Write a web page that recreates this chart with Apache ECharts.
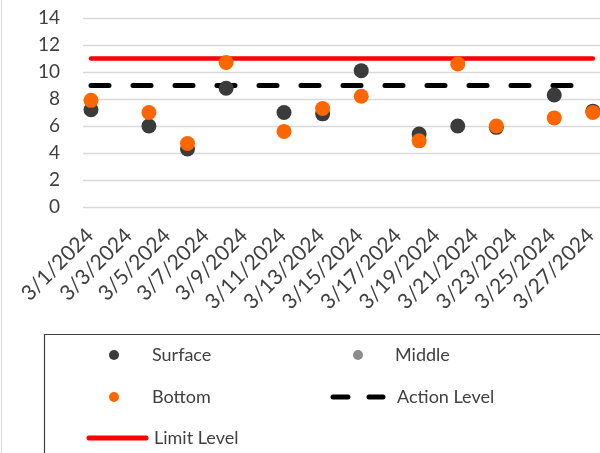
<!DOCTYPE html>
<html>
<head>
<meta charset="utf-8">
<script src="https://cdn.jsdelivr.net/npm/echarts@6/dist/echarts.min.js"></script>
<style>
  html, body { margin: 0; padding: 0; background: #fff; }
  #chart { width: 600px; height: 453px; }
</style>
</head>
<body>
<div id="chart"></div>
<script>
// sample dates and readings
const sampleDates = ["3/1/2024", "3/4/2024", "3/6/2024", "3/8/2024", "3/11/2024", "3/13/2024",
  "3/15/2024", "3/18/2024", "3/20/2024", "3/22/2024", "3/25/2024", "3/27/2024"];
const surface = [7.2, 6.0, 4.3, 8.8, 7.0, 6.9, 10.1, 5.4, 6.0, 5.9, 8.3, 7.1];
const middle = [];
const bottom = [7.9, 7.0, 4.7, 10.7, 5.6, 7.3, 8.2, 4.9, 10.6, 6.0, 6.6, 7.0];
const actionLevel = 9;
const limitLevel = 11;

// axis labels
const tickLabels = ["3/1/2024", "3/3/2024", "3/5/2024", "3/7/2024", "3/9/2024", "3/11/2024", "3/13/2024",
  "3/15/2024", "3/17/2024", "3/19/2024", "3/21/2024", "3/23/2024", "3/25/2024", "3/27/2024"];
const yMin = 0, yMax = 14, yStep = 2;

const FONT = "Lato";
const TEXT = "#404040";

function day(s) {
  return +s.split("/")[1];
}
function pairs(vals) {
  return vals.map((v, i) => [day(sampleDates[i]), v]);
}
function level(v) {
  return [[day(sampleDates[0]), v], [day(sampleDates[sampleDates.length - 1]), v]];
}

const myChart = echarts.init(document.getElementById("chart"));

function legendItem(name, left, top, itemWidth, textPad, extra) {
  return Object.assign({
    data: [name],
    left: left,
    top: top,
    padding: 0,
    itemWidth: itemWidth,
    itemHeight: 10,
    selectedMode: false,
    textStyle: { fontFamily: FONT, fontSize: 18, color: TEXT, padding: [0, 0, 0, textPad] }
  }, extra || {});
}

const option = {
  animation: false,
  grid: [
    { left: 83, right: 0, top: 18, height: 189 },
    // only carries the date labels
    { left: 90, width: 502, top: 18, height: 189 }
  ],
  xAxis: [
    { type: "value", gridIndex: 0, min: 0.5855, max: 27.37, show: false },
    {
      type: "category",
      gridIndex: 1,
      data: tickLabels,
      boundaryGap: false,
      axisLine: { show: false },
      axisTick: { show: false },
      axisLabel: {
        interval: 0,
        rotate: 45,
        margin: 25,
        fontFamily: FONT,
        fontSize: 21,
        color: TEXT
      }
    }
  ],
  yAxis: [
    {
      type: "value",
      gridIndex: 0,
      min: yMin,
      max: yMax,
      interval: yStep,
      axisLine: { show: false },
      axisTick: { show: false },
      splitLine: { lineStyle: { color: "#d9d9d9", width: 1.3 } },
      axisLabel: { margin: 23, fontFamily: FONT, fontSize: 19, color: TEXT }
    },
    { type: "value", gridIndex: 1, show: false, min: yMin, max: yMax }
  ],
  legend: [
    legendItem("Surface", 109, 346, 10, 28),
    legendItem("Middle", 353, 346, 10, 27),
    legendItem("Bottom", 109, 388, 10, 28),
    legendItem("Action Level", 330.5, 388, 50, 9, {
      lineStyle: { width: 5, type: [15, 21], cap: "round" },
      itemStyle: { opacity: 0 }
    }),
    legendItem("Limit Level", 86.5, 429, 57, 3, {
      lineStyle: { width: 5, cap: "round" },
      itemStyle: { opacity: 0 }
    })
  ],
  graphic: [
    { type: "line", shape: { x1: 1.5, y1: 0, x2: 1.5, y2: 453 }, style: { stroke: "#d9d9d9", lineWidth: 1 } },
    {
      type: "rect",
      shape: { x: 44.5, y: 334.5, width: 600, height: 200 },
      style: { fill: null, stroke: "#404040", lineWidth: 1.2 }
    }
  ],
  series: [
    {
      name: "Surface",
      type: "scatter",
      z: 4,
      symbolSize: 15,
      itemStyle: { color: "#3b3b3b", opacity: 1 },
      data: pairs(surface)
    },
    {
      name: "Middle",
      type: "scatter",
      z: 4,
      symbolSize: 15,
      itemStyle: { color: "#8c8c8c", opacity: 1 },
      data: pairs(middle)
    },
    {
      name: "Bottom",
      type: "scatter",
      z: 5,
      symbolSize: 15,
      itemStyle: { color: "#ff6600", opacity: 1 },
      data: pairs(bottom)
    },
    {
      name: "Action Level",
      type: "line",
      z: 2,
      symbol: "none",
      lineStyle: { color: "#000", width: 5, type: [18, 24], cap: "round" },
      itemStyle: { color: "#000" },
      data: level(actionLevel)
    },
    {
      name: "Limit Level",
      type: "line",
      z: 2,
      symbol: "none",
      lineStyle: { color: "#ff0000", width: 4.5, cap: "round" },
      itemStyle: { color: "#ff0000" },
      data: level(limitLevel)
    }
  ]
};

myChart.setOption(option);
</script>
</body>
</html>
